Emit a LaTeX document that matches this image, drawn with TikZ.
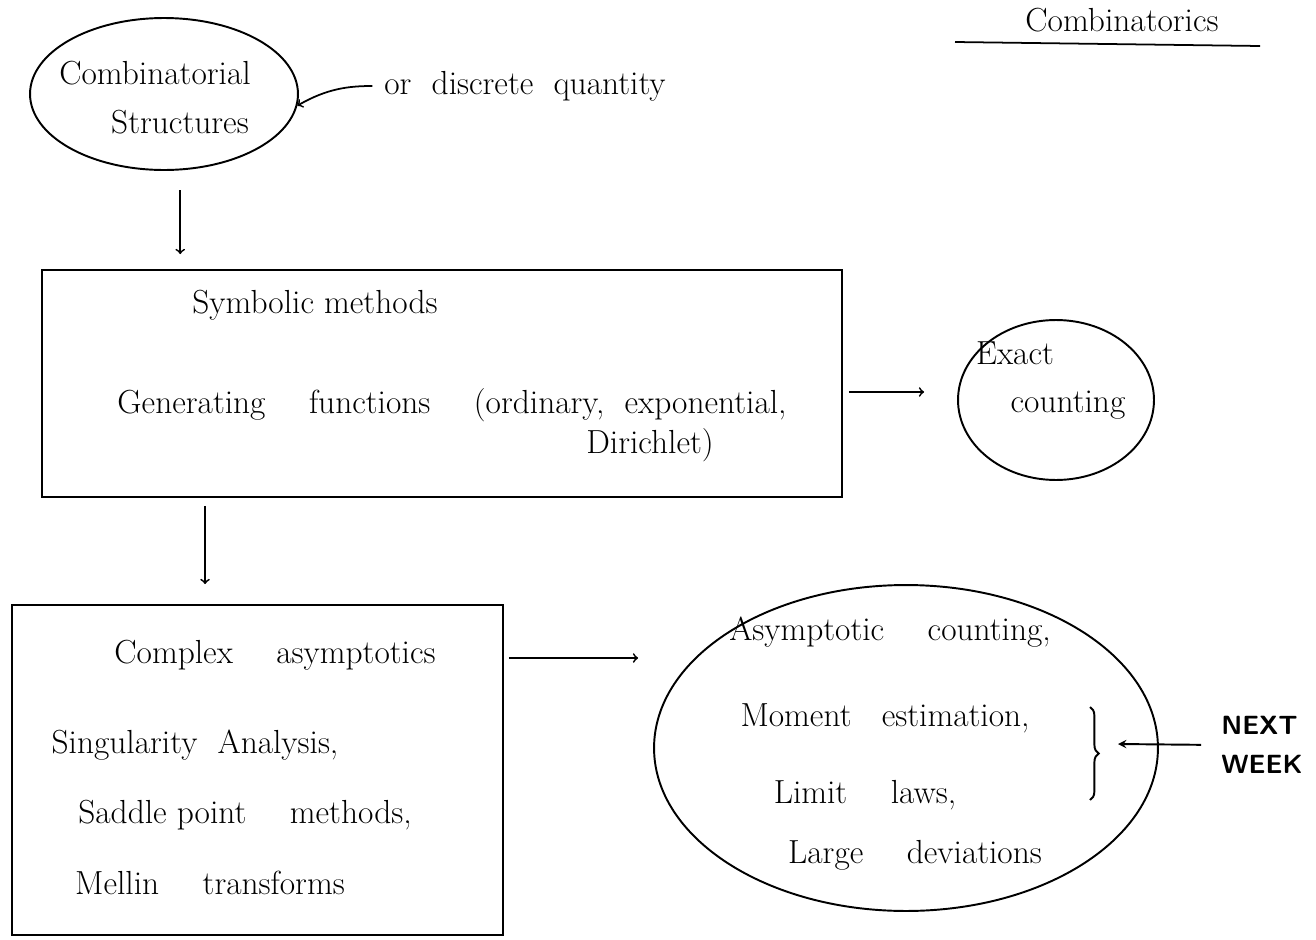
\documentclass[tikz,border=0pt]{standalone}
\usepackage{amsmath}
\usepackage{tikz}
\usetikzlibrary{arrows, calc, decorations.pathreplacing, positioning, shapes.geometric}

\tikzset{
  blob/.style={draw, ellipse, line width=1.1pt, inner sep=0pt},
  panel/.style={draw, rectangle, line width=1.1pt, inner sep=0pt},
  lbl/.style={inner sep=1pt, font=\fontsize{19}{23}\selectfont},
  arr/.style={->, line width=1pt}
}

\begin{document}
\begin{tikzpicture}[x=0.02cm, y=-0.02cm]
	\useasboundingbox (0,0) rectangle (1316,940);
	% title
	\node[lbl] (title) at (1122,20) {Combinatorics};
	\draw[line width=1pt] (955,42) -- (1260,46);
	% shapes
	\node[blob, minimum width=5.36cm, minimum height=3.04cm] (cs) at (164,94) {};
	\node[blob, minimum width=3.92cm, minimum height=3.2cm] (exact) at (1056,400) {};
	\node[blob, minimum width=10.08cm, minimum height=6.52cm] (asy) at (906,748) {};
	\node[panel, minimum width=16cm, minimum height=4.54cm] (sym) at (442,383.5) {};
	\node[panel, minimum width=9.82cm, minimum height=6.6cm] (cx) at (257.5,770) {};
	% texts
	\node[lbl] (cs1) at (155,73) {Combinatorial};
	\node[lbl] (cs2) at (180,122) {Structures};
	\node[lbl] (disc) at (525,86) {or \ discrete \ quantity};
	\node[lbl] (sym1) at (315,305) {Symbolic methods};
	\node[lbl] (sym2) at (452,405) {Generating \quad functions \quad (ordinary, \ exponential,};
	\node[lbl] (sym3) at (650,445) {Dirichlet)};
	\node[lbl] (ex1) at (1015,353) {Exact};
	\node[lbl] (ex2) at (1068,405) {counting};
	\node[lbl] (cx1) at (275,655) {Complex \quad asymptotics};
	\node[lbl] (cx2) at (195,745) {Singularity \ Analysis,};
	\node[lbl] (cx3) at (245,815) {Saddle point \quad methods,};
	\node[lbl] (cx4) at (210,883) {Mellin \quad transforms};
	\node[lbl] (asy1) at (890,632) {Asymptotic \quad counting,};
	\node[lbl] (asy2) at (885,718) {Moment \ \ estimation,};
	\node[lbl] (asy3) at (865,795) {Limit \quad laws,};
	\node[lbl] (asy4) at (915,855) {Large \quad deviations};
	\node[lbl, align=left, font=\fontsize{15}{22}\selectfont\sffamily\bfseries] (nw) at (1262,745) {NEXT\\WEEK};
	% brace
	\draw[line width=1.1pt, decoration={brace, amplitude=5pt}, decorate] (1090,707) -- (1090,800);
	\coordinate (tip) at (1118,744);
	% connectors
	\draw[arr, shorten <=0.2cm] (disc.west) to[out=180, in=30] (cs.355);
	\draw[arr, shorten <=0.4cm, shorten >=0.3cm] (cs.282) -- (cs.282 |- sym.north);
	\draw[arr, shorten <=0.12cm, shorten >=0.66cm] ([yshift=-0.17cm]sym.east) -- ([yshift=-0.17cm]sym.east -| exact.west);
	\draw[arr, shorten <=0.16cm, shorten >=0.4cm] ([xshift=-4.74cm]sym.south) -- ([xshift=-4.74cm]sym.south |- cx.north);
	\draw[arr, shorten <=0.1cm, shorten >=0.3cm] ([yshift=2.24cm]cx.east) -- ([yshift=2.24cm]cx.east -| asy.west);
	\draw[-stealth, line width=1.1pt, shorten <=0.36cm] (nw.west) -- (tip);
\end{tikzpicture}
\end{document}
